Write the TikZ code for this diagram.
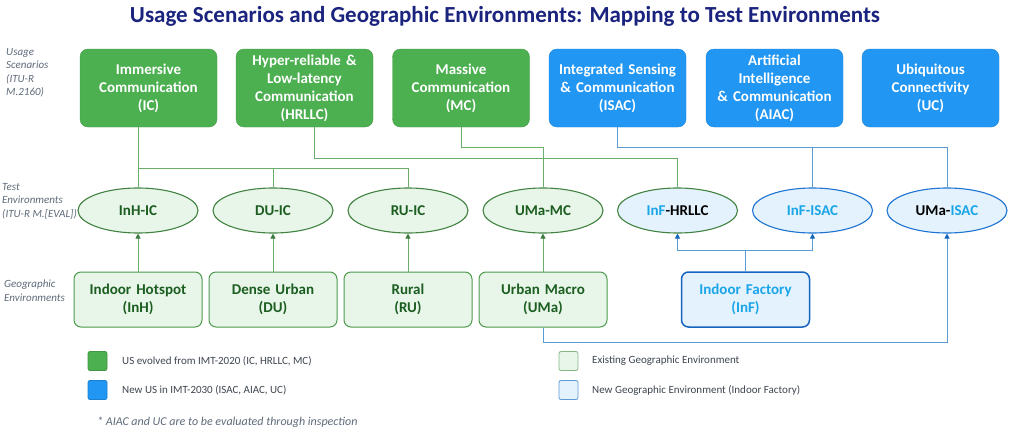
\documentclass[tikz,border=0pt]{standalone}
\usepackage{fontspec}
\setmainfont{Carlito}
\usetikzlibrary{shapes.geometric,arrows.meta,calc}
\definecolor{gfill}{HTML}{4CAF50}
\definecolor{bfill}{HTML}{2196F3}
\definecolor{dgreen}{HTML}{1B5E20}
\definecolor{lgfill}{HTML}{E8F5E9}
\definecolor{lgdraw}{HTML}{4E9A4E}
\definecolor{lbfill}{HTML}{E3F2FD}
\definecolor{bdraw}{HTML}{1565C0}
\definecolor{ebdraw}{HTML}{1E74D0}
\definecolor{inftext}{HTML}{1AA5E8}
\definecolor{gline}{HTML}{6AAE6A}
\definecolor{bline}{HTML}{5B9BD5}
\definecolor{titlec}{HTML}{1A237E}
\definecolor{labc}{HTML}{5F6B7A}
\definecolor{legc}{HTML}{3F4650}
\begin{document}
\begin{tikzpicture}[x=1pt,y=-1pt,
  usbox/.style={rounded corners=8pt, minimum width=137pt, minimum height=78pt, text width=134pt, align=center, inner sep=0pt, text=white, font=\bfseries\fontsize{15}{18}\selectfont},
  usg/.style={usbox, fill=gfill, draw=gfill!90!black, line width=0.4pt},
  usb/.style={usbox, fill=bfill, draw=bfill!90!black, line width=0.4pt},
  teg/.style={ellipse, minimum width=120pt, minimum height=45pt, inner sep=0pt, draw=lgdraw!85!black, line width=1.1pt, fill=lgfill, text=dgreen, font=\bfseries\fontsize{15}{18}\selectfont},
  tegb/.style={teg, fill=lbfill},
  teb/.style={teg, draw=ebdraw, fill=lbfill},
  geo/.style={rounded corners=7pt, minimum width=128pt, minimum height=55pt, text width=125pt, align=center, inner sep=0pt, draw=lgdraw, line width=1pt, fill=lgfill, text=dgreen, font=\bfseries\fontsize{15}{18}\selectfont},
  geob/.style={geo, draw=bdraw, line width=1.5pt, fill=lbfill, text=inftext},
  gl/.style={draw=gline, line width=0.9pt},
  bl/.style={draw=bline, line width=0.9pt},
  garr/.style={gl, -{Triangle[width=5pt,length=5pt,color=lgdraw!80!black]}},
  barr/.style={bl, -{Triangle[width=5pt,length=5pt,color=bdraw]}},
  side/.style={anchor=north west, align=left, inner sep=0pt, text=labc, font=\itshape\fontsize{11}{13.5}\selectfont},
  legsq/.style={rounded corners=2pt, minimum width=19pt, minimum height=19pt, inner sep=0pt, line width=0.8pt},
  legt/.style={anchor=west, inner sep=0pt, text=legc, font=\fontsize{11}{13}\selectfont}
]
\useasboundingbox (0,0) rectangle (1010,429);
\fill[white] (0,0) rectangle (1010,429);

\node[text=titlec, font=\bfseries\fontsize{23}{26}\selectfont] (title) at (505,16) {Usage Scenarios and Geographic Environments: Mapping to Test Environments};

% side labels
\node[side] (lab1) at (6,48) {Usage\\Scenarios\\(ITU-R\\M.2160)};
\node[side] (lab2) at (2,183) {Test\\Environments\\(ITU-R M.[EVAL])};
\node[side] (lab3) at (4,280) {Geographic\\Environments};

% usage scenarios
\node[usg] (ic) at (148.5,88) {Immersive\\Communication\\(IC)};
\node[usg] (hr) at (304.5,88) {Hyper-reliable \&\\Low-latency\\Communication\\(HRLLC)};
\node[usg] (mc) at (461,88) {Massive\\Communication\\(MC)};
\node[usb] (isac) at (617.5,88) {Integrated Sensing\\\& Communication\\(ISAC)};
\node[usb] (aiac) at (774.5,88) {Artificial\\Intelligence\\\& Communication\\(AIAC)};
\node[usb] (uc) at (930.5,88) {Ubiquitous\\Connectivity\\(UC)};

% test environments
\node[teg] (inhic) at (138,210.5) {InH-IC};
\node[teg] (duic) at (273,210.5) {DU-IC};
\node[teg] (ruic) at (408,210.5) {RU-IC};
\node[teg] (umamc) at (543,210.5) {UMa-MC};
\node[tegb] (infh) at (677.5,210.5) {\textcolor{inftext}{InF}\textcolor{black}{-HRLLC}};
\node[teb] (infisac) at (812.5,210.5) {\textcolor{inftext}{InF-ISAC}};
\node[teb] (umaisac) at (947,210.5) {\textcolor{black}{UMa-}\textcolor{inftext}{ISAC}};

% geographic environments
\node[geo] (inh) at (138,299.5) {Indoor Hotspot\\(InH)};
\node[geo] (du) at (273,299.5) {Dense Urban\\(DU)};
\node[geo] (ru) at (408,299.5) {Rural\\(RU)};
\node[geo] (uma) at (543,299.5) {Urban Macro\\(UMa)};
\node[geob] (inf) at (745.5,299.5) {Indoor Factory\\(InF)};

% junction coordinates
\coordinate (icj) at (138,168);
\coordinate (hrj) at (314,158);
\coordinate (mcj) at (461,147);
\coordinate (isj) at (617.5,147);
\coordinate (infj) at (745.5,250);
\coordinate (umaj) at (947,342);

% top connectors
\draw[gl] (ic.south -| icj) -- (icj) -| (ruic.north);
\draw[gl] (icj) -- (inhic.north);
\draw[gl] (icj -| duic.north) -- (duic.north);
\draw[gl] (hr.south -| hrj) -- (hrj) -| (infh.north);
\draw[gl] (mc.south) -- (mcj) -| (umamc.north);
\draw[bl] (isac.south) -- (isj) -| (umaisac.north);
\draw[bl] (isj -| infisac.north) -- (infisac.north);

% bottom arrows
\draw[garr] (inh.north) -- (inhic.south);
\draw[garr] (du.north) -- (duic.south);
\draw[garr] (ru.north) -- (ruic.south);
\draw[garr] (uma.north) -- (umamc.south);
\draw[barr] (inf.north) |- (infh.south |- infj) -- (infh.south);
\draw[barr] (infj) -| (infisac.south);
\draw[barr] (uma.south) |- (umaj) -- (umaisac.south);

% legend
\node[legsq, fill=gfill, draw=gfill!85!black] (lg1) at (97.5,361) {};
\node[legt] (lt1) at (122,361) {US evolved from IMT-2020 (IC, HRLLC, MC)};
\node[legsq, fill=bfill, draw=bfill!85!black] (lg2) at (97.5,390) {};
\node[legt] (lt2) at (122,390) {New US in IMT-2030 (ISAC, AIAC, UC)};
\node[legsq, fill=lgfill, draw=lgdraw!70] (lg3) at (568.5,361) {};
\node[legt] (lt3) at (592,361) {Existing Geographic Environment};
\node[legsq, fill=lbfill, draw=bline] (lg4) at (568.5,390) {};
\node[legt] (lt4) at (592,390) {New Geographic Environment (Indoor Factory)};
\node[legt, text=labc, font=\itshape\fontsize{12}{14}\selectfont] (foot) at (97,422) {* AIAC and UC are to be evaluated through inspection};
\end{tikzpicture}
\end{document}
